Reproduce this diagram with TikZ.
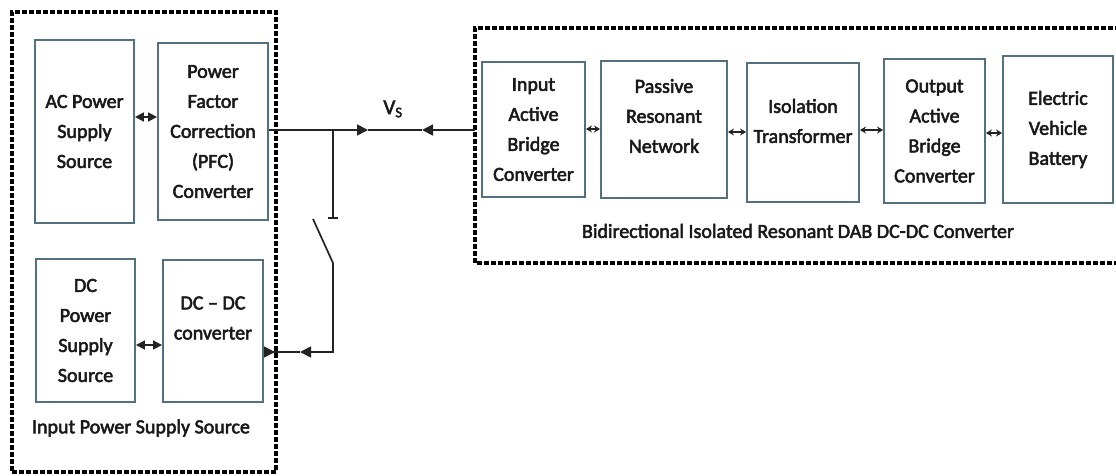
\documentclass[tikz,border=0pt]{standalone}
\usepackage{fontspec}
\setmainfont{Carlito}[FakeBold=2.6]
\usetikzlibrary{arrows.meta}
\definecolor{boxc}{RGB}{84,112,126}
\definecolor{txtc}{RGB}{25,25,25}
\definecolor{linec}{RGB}{35,35,35}
\tikzset{
  blk/.style={draw=boxc, line width=1.9pt, fill=white, align=center, inner sep=0pt, text=txtc,
    font=\fontsize{20}{30}\selectfont},
  txt/.style={align=center, inner sep=0pt, text=txtc, font=\fontsize{20}{30}\selectfont},
  grp/.style={draw=black, line width=3.2pt, dash pattern=on 5pt off 2pt},
  wire/.style={draw=linec, line width=1.7pt},
  tipbig/.style={wire, {Triangle[length=9pt,width=9pt]}-{Triangle[length=9pt,width=9pt]}},
  tipsml/.style={wire, line width=2pt, {Stealth[length=6pt,width=7pt]}-{Stealth[length=6pt,width=7pt]}},
  tri/.style={wire, -{Triangle[length=11pt,width=11pt]}}
}
\begin{document}
\begin{tikzpicture}[x=1pt,y=-1pt]
\useasboundingbox (0,0) rectangle (1116,476);
% group frames
\node[grp, minimum width=264pt, minimum height=460pt, inner sep=0pt] (ingrp) at (144,242) {};
\coordinate (rtr) at (1120,28);
\coordinate (rtl) at (475,28);
\coordinate (rbl) at (475,263);
\coordinate (rbr) at (1120,263);
\draw[grp] (rtr) -- (rtl) -- (rbl) -- (rbr);
% left blocks
\node[blk, minimum width=99pt, minimum height=183pt] (ac) at (84.5,131.5) {AC Power\\Supply\\Source};
\node[blk, minimum width=110pt, minimum height=177pt] (pfc) at (213,131.5) {Power\\Factor\\Correction\\(PFC)\\Converter};
\node[blk, minimum width=99pt, minimum height=143pt] (dc) at (85.5,330.5) {DC\\Power\\Supply\\Source};
\node[blk, minimum width=100pt, minimum height=142pt] (dcdc) at (213,331) {};
\node[txt] (dcdctxt) at (213,318) {DC -- DC\\converter};
\node[txt] (inlbl) at (141,428) {Input Power Supply Source};
% right blocks
\node[blk, minimum width=103pt, minimum height=135pt] (iab) at (533.5,129.5) {Input\\Active\\Bridge\\Converter};
\node[blk, minimum width=126pt, minimum height=137pt] (prn) at (664,129.5) {};
\node[txt] (prntxt) at (664,116) {Passive\\Resonant\\Network};
\node[blk, minimum width=112pt, minimum height=139pt] (iso) at (803,132.5) {};
\node[txt] (isotxt) at (803,121) {Isolation\\Transformer};
\node[blk, minimum width=101pt, minimum height=144pt] (oab) at (934.5,131) {Output\\Active\\Bridge\\Converter};
\node[blk, minimum width=110pt, minimum height=147pt] (ev) at (1058,129.5) {Electric\\Vehicle\\Battery};
\node[txt] (dablbl) at (798,231) {Bidirectional Isolated Resonant DAB DC-DC Converter};
% double arrows
\draw[tipbig] (ac.east |- 0,117) -- (pfc.west |- 0,117);
\draw[tipbig] (dc.east |- 0,345) -- (dcdc.west |- 0,345);
\draw[tipsml] (iab.east |- 0,129) -- (prn.west |- 0,129);
\draw[tipsml] (prn.east |- 0,132) -- (iso.west |- 0,132);
\draw[tipsml] (iso.east |- 0,130) -- (oab.west |- 0,130);
\draw[tipsml] (oab.east |- 0,133) -- (ev.west |- 0,133);
% main bus
\coordinate (pfco) at (pfc.east |- 0,130);
\coordinate (vsR) at (368,130);
\coordinate (vsL) at (422,130);
\coordinate (rin) at (rtl |- 0,130);
\draw[tri] (pfco) -- (vsR);
\draw[wire] (vsR) -- (vsL);
\draw[tri] (rin) -- (vsL);
\node[txt, font=\fontsize{21}{24}\selectfont] (vs) at (393,109) {V\textsubscript{S}};
% switch branch
\coordinate (br) at (333,130);
\coordinate (swtop) at (333,218);
\coordinate (swtl) at (328,218);
\coordinate (swtr) at (338,218);
\coordinate (blade) at (313,219);
\coordinate (swpiv) at (333,263);
\coordinate (botc) at (333,352);
\coordinate (botL) at (300,352);
\coordinate (dcdci) at (dcdc.east |- 0,352);
\draw[wire] (br) -- (swtop);
\draw[wire] (swtl) -- (swtr);
\draw[wire] (blade) -- (swpiv);
\draw[tri] (swpiv) -- (botc) -- (botL);
\draw[wire, {Triangle[length=11pt,width=11pt,reversed]}-] (dcdci) -- (botL);
\end{tikzpicture}
\end{document}
